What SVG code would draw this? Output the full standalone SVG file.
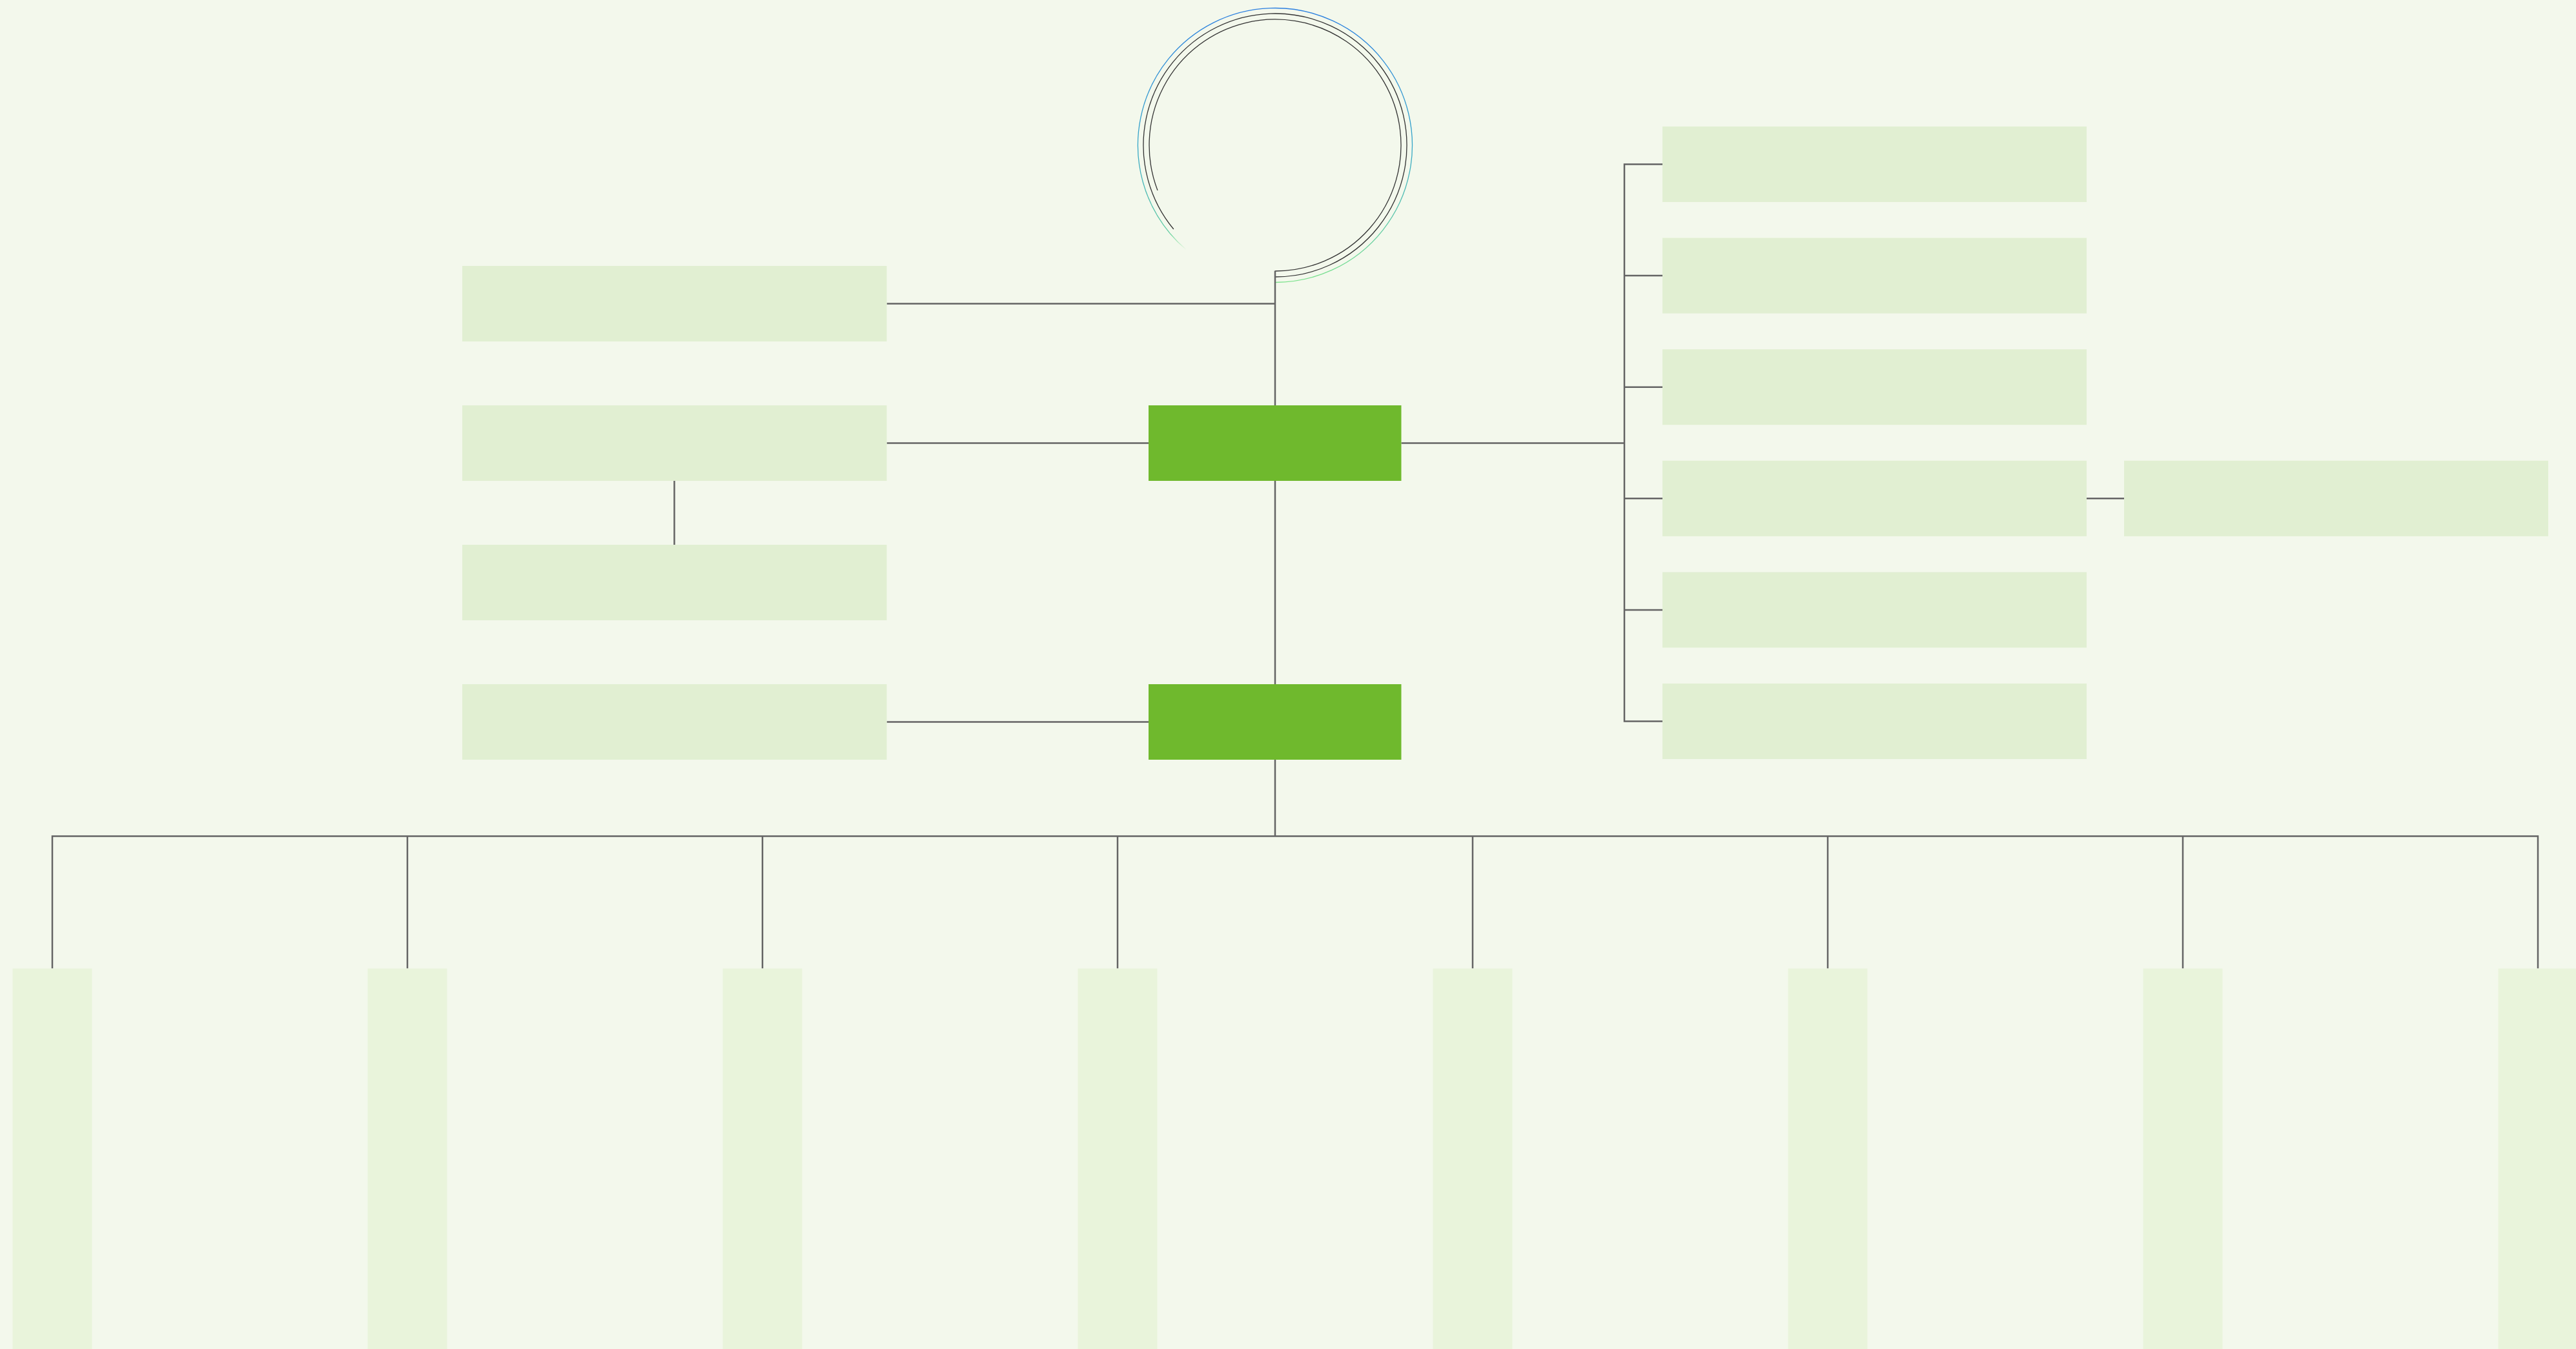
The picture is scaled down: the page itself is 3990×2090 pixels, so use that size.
<svg xmlns="http://www.w3.org/2000/svg" width="3990" height="2090" viewBox="0 0 3990 2090">
<defs>
<style>
.bg{fill:#F3F8EC}
.box{fill:#E1EFD2}
.main{fill:#6FB92D}
.col{fill:#E9F4DB}
.ln{fill:none;stroke:#646464;stroke-width:2.5}
.arc{fill:none;stroke:#333;stroke-width:1.3}
</style>
<linearGradient id="ring" x1="0" y1="12" x2="0" y2="438" gradientUnits="userSpaceOnUse">
<stop offset="0" stop-color="#2C7FE0"/>
<stop offset="0.5" stop-color="#35A6C8"/>
<stop offset="1" stop-color="#7DE38C"/>
</linearGradient>
<linearGradient id="tail" x1="1812" y1="362" x2="1837" y2="387" gradientUnits="userSpaceOnUse">
<stop offset="0" stop-color="#62D09A" stop-opacity="1"/>
<stop offset="1" stop-color="#7DE38C" stop-opacity="0"/>
</linearGradient>
</defs>
<rect class="bg" x="0" y="0" width="3990" height="2090"/>
<g id="ring-decor">
<path class="arc" d="M1975 420 A195 195 0 1 0 1793 294.9"/>
<path class="arc" d="M1975 429 A204 204 0 1 0 1817.8 355"/>
<path d="M1975 437.5 A212.5 212.5 0 1 0 1812.2 361.6" fill="none" stroke="url(#ring)" stroke-width="1.3"/>
<path d="M1812.2 361.6 A212.5 212.5 0 0 0 1837 386.6" fill="none" stroke="url(#tail)" stroke-width="1.3"/>
</g>
<g id="connectors">
<path class="ln" d="M1975 419.5 V1295.5"/>
<path class="ln" d="M1373.5 470.5 H1975"/>
<path class="ln" d="M1373.5 686.5 H1779"/>
<path class="ln" d="M1044.5 745 V844"/>
<path class="ln" d="M1373.5 1118.5 H1779"/>
<path class="ln" d="M2170.5 686.5 H2516"/>
<path class="ln" d="M2575 254.5 H2516 V1117.5 H2575"/>
<path class="ln" d="M2516 427.1 H2575 M2516 599.7 H2575 M2516 772.3 H2575 M2516 944.9 H2575"/>
<path class="ln" d="M3232 772.3 H3290"/>
<path class="ln" d="M81 1500.5 V1295.5 H3931 V1500.5"/>
<path class="ln" d="M631 1295.5 V1500.5 M1181 1295.5 V1500.5 M1731 1295.5 V1500.5 M2281 1295.5 V1500.5 M2831 1295.5 V1500.5 M3381 1295.5 V1500.5"/>
</g>
<g id="node-l1"><rect class="box" x="716" y="412" width="657.5" height="117"/></g>
<g id="node-l2"><rect class="box" x="716" y="628" width="657.5" height="117"/></g>
<g id="node-l3"><rect class="box" x="716" y="844" width="657.5" height="117"/></g>
<g id="node-l4"><rect class="box" x="716" y="1060" width="657.5" height="117"/></g>
<g id="node-c1"><rect class="main" x="1779" y="628" width="391.5" height="117"/></g>
<g id="node-c2"><rect class="main" x="1779" y="1060" width="391.5" height="117"/></g>
<g id="node-r1"><rect class="box" x="2575" y="196" width="657" height="117"/></g>
<g id="node-r2"><rect class="box" x="2575" y="368.6" width="657" height="117"/></g>
<g id="node-r3"><rect class="box" x="2575" y="541.2" width="657" height="117"/></g>
<g id="node-r4"><rect class="box" x="2575" y="713.8" width="657" height="117"/></g>
<g id="node-r5"><rect class="box" x="2575" y="886.4" width="657" height="117"/></g>
<g id="node-r6"><rect class="box" x="2575" y="1059" width="657" height="117"/></g>
<g id="node-r4a"><rect class="box" x="3290" y="713.8" width="657" height="117"/></g>
<g id="node-b1"><rect class="col" x="19.5" y="1500.5" width="123" height="590"/></g>
<g id="node-b2"><rect class="col" x="569.5" y="1500.5" width="123" height="590"/></g>
<g id="node-b3"><rect class="col" x="1119.5" y="1500.5" width="123" height="590"/></g>
<g id="node-b4"><rect class="col" x="1669.5" y="1500.5" width="123" height="590"/></g>
<g id="node-b5"><rect class="col" x="2219.5" y="1500.5" width="123" height="590"/></g>
<g id="node-b6"><rect class="col" x="2769.5" y="1500.5" width="123" height="590"/></g>
<g id="node-b7"><rect class="col" x="3319.5" y="1500.5" width="123" height="590"/></g>
<g id="node-b8"><rect class="col" x="3869.5" y="1500.5" width="123" height="590"/></g>
</svg>
